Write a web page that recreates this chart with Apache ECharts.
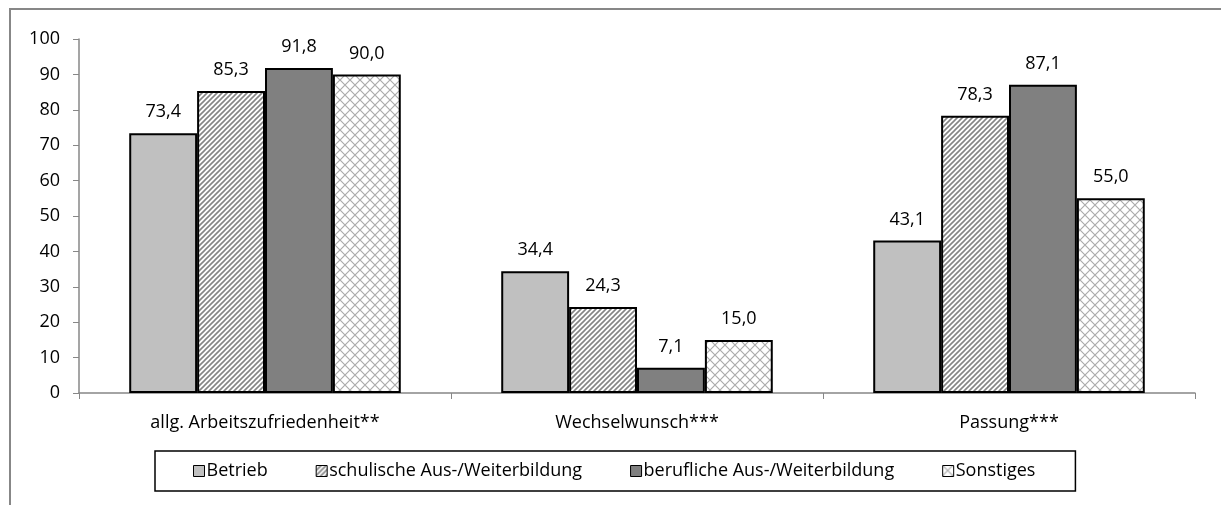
<!DOCTYPE html>
<html>
<head>
<meta charset="utf-8">
<script src="https://cdn.jsdelivr.net/npm/echarts@6/dist/echarts.min.js"></script>
<style>
  html, body { margin: 0; padding: 0; background: #fff; }
  #chart { width: 1221px; height: 505px; }
</style>
</head>
<body>
<div id="chart"></div>
<script>
const categories = ['allg. Arbeitszufriedenheit**', 'Wechselwunsch***', 'Passung***']
const seriesNames = ['Betrieb', 'schulische Aus-/Weiterbildung', 'berufliche Aus-/Weiterbildung', 'Sonstiges']
const betrieb = [73.4, 34.4, 43.1]
const schulisch = [85.3, 24.3, 78.3]
const beruflich = [91.8, 7.1, 87.1]
const sonstiges = [90.0, 15.0, 55.0]
const yTicks = { min: 0, max: 100, interval: 10 }

const FONT = 'Open Sans'
const FS = 18

// pattern tiles, drawn once
function stripeTile() {
  const c = document.createElement('canvas')
  c.width = c.height = 5
  const ctx = c.getContext('2d')
  ctx.fillStyle = '#fff'
  ctx.fillRect(0, 0, 5, 5)
  ctx.strokeStyle = '#858585'
  ctx.lineWidth = 1.6
  ctx.beginPath()
  ctx.moveTo(-1, 6); ctx.lineTo(6, -1)
  ctx.moveTo(-1, 1); ctx.lineTo(1, -1)
  ctx.moveTo(4, 6); ctx.lineTo(6, 4)
  ctx.stroke()
  return c
}
function crossTile() {
  const c = document.createElement('canvas')
  c.width = c.height = 10
  const ctx = c.getContext('2d')
  ctx.fillStyle = '#fff'
  ctx.fillRect(0, 0, 10, 10)
  ctx.strokeStyle = '#acacac'
  ctx.lineWidth = 1.2
  ctx.beginPath()
  ctx.moveTo(0, 0); ctx.lineTo(10, 10)
  ctx.moveTo(10, 0); ctx.lineTo(0, 10)
  ctx.stroke()
  return c
}

const fills = [
  '#c0c0c0',
  { image: stripeTile(), repeat: 'repeat' },
  '#808080',
  { image: crossTile(), repeat: 'repeat' }
]
const values = [betrieb, schulisch, beruflich, sonstiges]

const chart = echarts.init(document.getElementById('chart'))
const option = {
  animation: false,
  textStyle: { fontFamily: FONT, color: '#000' },
  graphic: [{
    type: 'rect',
    shape: { x: 10, y: 9, width: 1240, height: 560 },
    style: { fill: 'none', stroke: '#878787', lineWidth: 2 },
    silent: true
  }],
  grid: { left: 79, right: 26, top: 39, bottom: 112 },
  legend: {
    left: 155,
    top: 451,
    orient: 'horizontal',
    padding: [11, 40, 11, 38],
    borderColor: '#000',
    borderWidth: 1.5,
    itemGap: 48,
    itemWidth: 11,
    itemHeight: 11,
    icon: 'rect',
    textStyle: { fontFamily: FONT, fontSize: FS, color: '#000', padding: [0, 0, 0, -3] },
    itemStyle: { borderColor: '#000', borderWidth: 1 },
    data: seriesNames
  },
  xAxis: {
    type: 'category',
    data: categories,
    axisLine: { lineStyle: { color: '#878787', width: 1.5 } },
    axisTick: { show: true, length: 6, lineStyle: { color: '#878787' } },
    axisLabel: { fontFamily: FONT, fontSize: FS, color: '#000', margin: 21 }
  },
  yAxis: {
    type: 'value',
    min: yTicks.min,
    max: yTicks.max,
    interval: yTicks.interval,
    splitLine: { show: false },
    axisLine: { show: true, lineStyle: { color: '#878787', width: 1.5 } },
    axisTick: { show: true, length: 6, lineStyle: { color: '#878787' } },
    axisLabel: { fontFamily: FONT, fontSize: FS, color: '#000', margin: 19 }
  },
  series: seriesNames.map((name, i) => ({
    name,
    type: 'bar',
    data: values[i],
    barGap: '0%',
    barCategoryGap: '27%',
    itemStyle: { color: fills[i], borderColor: '#000', borderWidth: 2 },
    label: {
      show: true,
      position: 'top',
      distance: 12,
      fontFamily: FONT,
      fontSize: FS,
      color: '#000',
      formatter: p => p.value.toFixed(1).replace('.', ',')
    }
  }))
}
chart.setOption(option)
</script>
</body>
</html>
